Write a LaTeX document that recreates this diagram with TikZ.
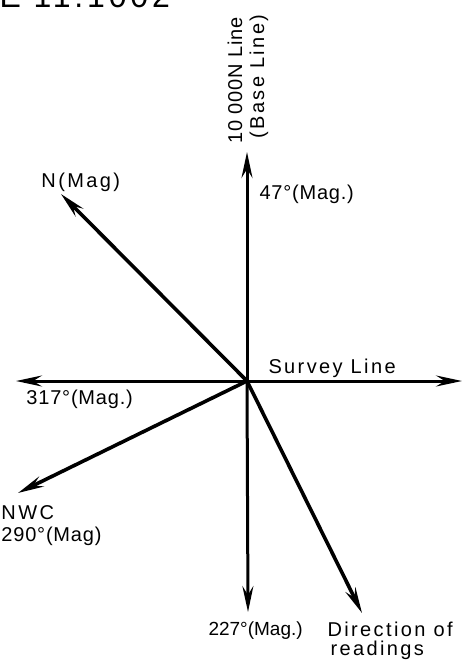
\documentclass[tikz,border=0pt]{standalone}
\usepackage{fontspec}
\setmainfont{Liberation Sans}[LetterSpace=12]
\newfontfamily\degfont{Liberation Sans}[LetterSpace=4]
\newfontfamily\tightfont{Liberation Sans}[LetterSpace=0]
\usetikzlibrary{arrows.meta}
\begin{document}
\begin{tikzpicture}[x=1pt,y=-1pt,line width=3pt,
  arr/.style={-{Stealth[length=26pt,width=11pt,inset=9pt]}},
  diag/.style={line width=3.6pt},
  lbl/.style={font=\fontsize{20}{22}\selectfont,inner sep=0pt,anchor=base west},
  deg/.style={lbl,font=\fontsize{20}{22}\degfont}]
\useasboundingbox (0,0) rectangle (463,662);
\begin{scope}
\clip (0,0) rectangle (463,662);
\node[lbl,font=\fontsize{32}{34}\selectfont] (top) at (-2,7) {E 11.1002};
\end{scope}
\coordinate (O) at (247,381);
\coordinate (up) at (247,152);
\coordinate (down) at (248,612);
\coordinate (left) at (16,381);
\coordinate (right) at (462,381);
\coordinate (nmag) at (61,194);
\coordinate (nwc) at (18,493);
\coordinate (dir) at (362,613);
\draw[arr] (O) -- (up);
\draw[arr] (O) -- (down);
\draw[arr] (O) -- (left);
\draw[arr] (O) -- (right);
\draw[arr,diag] (O) -- (nmag);
\draw[arr,diag] (O) -- (nwc);
\draw[arr,diag] (O) -- (dir);
\node[deg,rotate=90] (base1) at (242,145) {10 000N Line};
\node[lbl,rotate=90] (base2) at (264,140) {(Base Line)};
\node[deg] (l47) at (258,199) {47°(Mag.)};
\node[lbl] (lN) at (40,187) {N(Mag)};
\node[lbl] (lsurvey) at (267,373) {Survey Line};
\node[deg] (l317) at (25,404) {317°(Mag.)};
\node[lbl,anchor=north west,align=left,font=\fontsize{20}{22}\selectfont] (lnwc) at (0,503.7) {NWC\\{\degfont 290°(Mag)}};
\node[lbl,font=\fontsize{19}{21}\tightfont] (l227) at (207,635) {227°(Mag.)};
\node[lbl,anchor=north west,align=left,font=\fontsize{20}{19}\selectfont] (ldir) at (326,620.5) {Direction of\\\hspace{3pt}readings};
\end{tikzpicture}
\end{document}
